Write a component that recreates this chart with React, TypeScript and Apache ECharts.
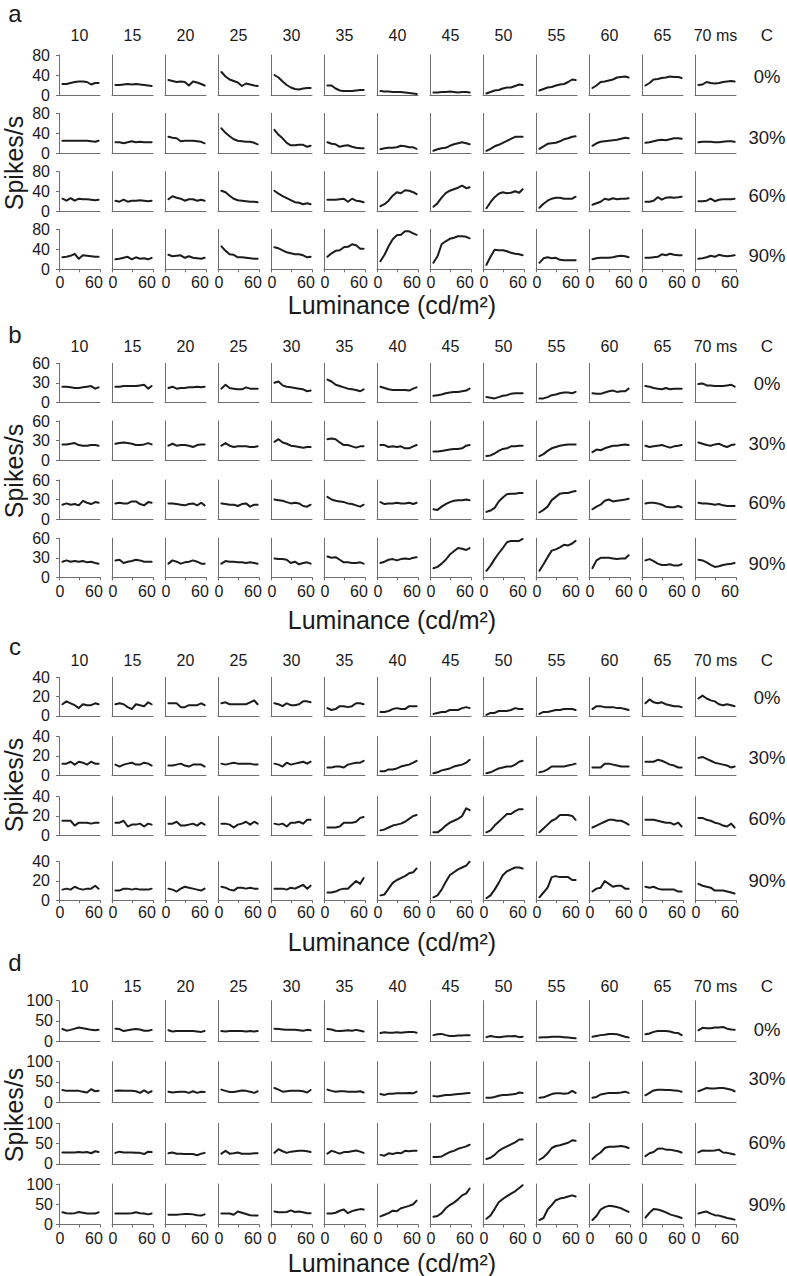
import React, { useEffect, useRef } from "react";
import * as echarts from "echarts";

// ---------- data ----------
const luminance = [5, 11, 17, 23, 29, 35, 41, 47, 53, 58];
const delayLabels = ["10", "15", "20", "25", "30", "35", "40", "45", "50", "55", "60", "65", "70 ms"];
const contrastLabels = ["0%", "30%", "60%", "90%"];
const panelLetters = ["a", "b", "c", "d"];
const yMaxima = [80, 60, 40, 100];

// panel a
const a0 = [
  [22, 22, 24, 26, 27, 27, 26, 21, 24, 24], [20, 20, 21, 22, 21, 22, 21, 20, 19, 18],
  [30, 28, 26, 27, 26, 19, 27, 25, 22, 19], [46, 37, 31, 28, 25, 18, 23, 21, 19, 18],
  [40, 35, 27, 20, 15, 12, 11, 13, 14, 14], [19, 19, 13, 9, 8, 8, 8, 9, 10, 10],
  [8, 7, 7, 6, 6, 6, 5, 4, 3, 2], [5, 5, 6, 6, 7, 6, 5, 6, 6, 5],
  [3, 6, 9, 10, 13, 15, 15, 18, 21, 20], [9, 12, 15, 16, 19, 21, 22, 26, 31, 30],
  [14, 19, 26, 27, 29, 31, 35, 36, 37, 35], [19, 24, 31, 32, 34, 35, 37, 36, 36, 34],
  [20, 21, 26, 24, 23, 24, 26, 27, 28, 27],
];
const a30 = [
  [25, 25, 25, 25, 25, 25, 25, 24, 23, 25], [22, 22, 20, 22, 24, 22, 23, 22, 22, 22],
  [33, 31, 30, 24, 25, 25, 25, 24, 23, 20], [50, 41, 34, 28, 25, 24, 23, 23, 21, 18],
  [47, 37, 30, 21, 16, 16, 17, 17, 13, 15], [22, 19, 18, 13, 15, 16, 13, 11, 10, 10],
  [8, 10, 11, 11, 12, 15, 14, 12, 12, 9], [5, 8, 10, 11, 15, 18, 20, 22, 20, 18],
  [5, 9, 14, 17, 21, 25, 29, 33, 33, 33], [9, 14, 19, 20, 21, 24, 28, 30, 33, 34],
  [15, 20, 23, 24, 25, 26, 27, 29, 31, 30], [21, 22, 24, 26, 27, 26, 28, 30, 30, 29],
  [22, 23, 23, 23, 22, 22, 23, 24, 24, 23],
];
const a60 = [
  [26, 22, 27, 22, 26, 25, 25, 24, 23, 24], [22, 20, 24, 20, 22, 22, 23, 22, 21, 22],
  [25, 31, 28, 26, 22, 25, 25, 22, 24, 22], [42, 39, 32, 26, 23, 22, 21, 20, 20, 19],
  [42, 36, 31, 27, 23, 19, 18, 15, 17, 15], [24, 24, 24, 25, 26, 20, 26, 22, 21, 19],
  [11, 15, 22, 32, 39, 37, 43, 42, 39, 35], [10, 17, 28, 37, 42, 45, 48, 52, 47, 49],
  [7, 19, 29, 36, 39, 37, 38, 41, 38, 45], [8, 16, 22, 26, 28, 28, 26, 26, 26, 30],
  [14, 17, 20, 26, 24, 27, 25, 26, 26, 27], [20, 20, 22, 29, 24, 28, 29, 28, 29, 30],
  [21, 21, 22, 26, 21, 24, 25, 25, 25, 26],
];
const a90 = [
  [24, 25, 27, 31, 21, 28, 27, 26, 25, 25], [20, 21, 23, 25, 20, 24, 21, 22, 20, 23],
  [29, 26, 27, 28, 23, 26, 23, 22, 21, 23], [46, 37, 30, 29, 24, 24, 23, 22, 21, 21],
  [44, 42, 38, 34, 32, 30, 30, 28, 24, 25], [25, 32, 37, 38, 44, 45, 50, 48, 41, 41],
  [16, 29, 46, 60, 68, 69, 76, 76, 72, 69], [13, 26, 50, 56, 61, 63, 66, 66, 65, 62],
  [9, 25, 39, 38, 38, 36, 33, 31, 30, 28], [13, 22, 24, 22, 23, 19, 18, 18, 18, 18],
  [20, 22, 23, 23, 23, 24, 26, 27, 26, 24], [23, 23, 24, 25, 30, 28, 31, 29, 28, 28],
  [21, 22, 24, 27, 25, 29, 27, 26, 27, 28],
];

// panel b
const b0 = [
  [24, 24, 23, 22, 22, 23, 24, 25, 21, 23], [24, 24, 25, 25, 25, 25, 26, 27, 21, 25],
  [22, 24, 21, 22, 22, 23, 23, 24, 23, 24], [21, 27, 22, 21, 20, 20, 23, 21, 21, 21],
  [30, 32, 26, 24, 23, 22, 21, 20, 17, 18], [35, 32, 27, 25, 23, 21, 20, 19, 17, 20],
  [24, 22, 20, 19, 19, 19, 19, 18, 21, 23], [10, 11, 12, 14, 15, 16, 16, 17, 18, 21],
  [8, 7, 6, 8, 10, 11, 13, 14, 14, 14], [6, 6, 8, 11, 12, 14, 15, 15, 14, 16],
  [14, 13, 13, 15, 17, 18, 16, 17, 17, 21], [25, 24, 22, 21, 20, 22, 20, 21, 21, 21],
  [28, 29, 26, 26, 25, 25, 25, 26, 27, 24],
];
const b30 = [
  [24, 24, 25, 26, 23, 22, 22, 23, 23, 22], [25, 26, 27, 26, 25, 23, 23, 24, 26, 24],
  [22, 25, 22, 23, 23, 22, 20, 23, 24, 24], [22, 26, 22, 20, 21, 21, 21, 20, 20, 21],
  [28, 32, 27, 25, 22, 21, 20, 19, 20, 20], [32, 33, 32, 27, 23, 23, 21, 19, 21, 21],
  [23, 23, 20, 21, 20, 21, 18, 18, 21, 23], [13, 13, 14, 15, 16, 17, 17, 18, 22, 23],
  [6, 7, 10, 14, 17, 18, 21, 21, 22, 22], [6, 9, 14, 18, 20, 22, 23, 24, 24, 24],
  [12, 16, 15, 18, 20, 22, 22, 23, 24, 23], [22, 20, 21, 22, 23, 21, 19, 21, 22, 23],
  [27, 25, 23, 22, 24, 25, 22, 20, 23, 24],
];
const b60 = [
  [22, 24, 22, 23, 21, 28, 25, 23, 26, 25], [24, 25, 24, 24, 27, 27, 23, 21, 26, 25],
  [24, 24, 23, 22, 21, 23, 24, 21, 25, 21], [24, 23, 22, 22, 20, 23, 24, 19, 22, 22],
  [30, 29, 28, 26, 24, 25, 24, 20, 19, 22], [34, 30, 28, 27, 26, 24, 23, 21, 19, 22],
  [26, 23, 24, 24, 25, 24, 24, 25, 23, 25], [15, 14, 19, 23, 26, 28, 29, 29, 30, 29],
  [11, 13, 17, 27, 33, 38, 39, 39, 40, 40], [10, 14, 19, 29, 34, 39, 40, 40, 42, 43],
  [15, 19, 22, 28, 30, 27, 28, 29, 30, 31], [24, 25, 25, 24, 22, 19, 18, 18, 20, 18],
  [25, 24, 24, 23, 22, 23, 21, 20, 20, 20],
];
const b90 = [
  [24, 26, 24, 25, 24, 25, 23, 24, 22, 21], [26, 27, 22, 24, 25, 27, 26, 24, 24, 24],
  [21, 26, 24, 21, 23, 24, 26, 24, 21, 21], [21, 25, 24, 24, 23, 23, 22, 23, 22, 21],
  [29, 28, 28, 27, 22, 24, 20, 22, 23, 21], [32, 30, 31, 27, 23, 23, 22, 22, 23, 21],
  [22, 24, 27, 28, 26, 28, 29, 28, 30, 31], [14, 16, 21, 27, 35, 40, 45, 44, 42, 45],
  [10, 18, 28, 37, 45, 54, 56, 56, 56, 59], [10, 20, 31, 41, 43, 46, 50, 49, 52, 56],
  [14, 26, 30, 30, 30, 29, 28, 29, 29, 34], [26, 28, 25, 21, 19, 19, 20, 18, 18, 20],
  [27, 26, 23, 19, 16, 17, 19, 20, 21, 22],
];

// panel c
const c0 = [
  [12, 15, 13, 11, 8, 12, 11, 11, 13, 12], [12, 13, 12, 9, 7, 12, 11, 10, 14, 12],
  [13, 13, 13, 9, 9, 11, 11, 11, 13, 11], [13, 14, 12, 12, 12, 12, 12, 14, 16, 12],
  [13, 12, 10, 13, 11, 11, 12, 15, 15, 14], [8, 6, 7, 10, 10, 9, 10, 13, 13, 12],
  [4, 4, 5, 7, 8, 7, 7, 10, 10, 10], [2, 3, 4, 4, 6, 6, 6, 8, 9, 8],
  [1, 3, 3, 5, 5, 5, 6, 8, 7, 7], [2, 4, 4, 5, 6, 6, 7, 7, 7, 6],
  [7, 10, 10, 9, 9, 9, 8, 8, 7, 6], [13, 17, 14, 13, 14, 12, 11, 10, 10, 9],
  [18, 21, 18, 16, 15, 12, 11, 12, 11, 10],
];
const c30 = [
  [12, 12, 14, 11, 14, 13, 11, 14, 12, 12], [11, 9, 11, 12, 13, 11, 11, 13, 12, 10],
  [10, 10, 11, 12, 10, 9, 11, 11, 11, 9], [12, 11, 12, 13, 12, 12, 12, 12, 11, 11],
  [12, 11, 9, 13, 11, 12, 13, 14, 12, 14], [8, 8, 9, 9, 8, 11, 12, 13, 13, 15],
  [4, 4, 6, 6, 7, 9, 10, 11, 13, 15], [2, 3, 5, 6, 7, 9, 10, 11, 13, 16],
  [2, 3, 5, 7, 8, 9, 9, 11, 14, 15], [3, 4, 6, 9, 9, 9, 9, 10, 11, 12],
  [8, 8, 8, 12, 12, 11, 10, 9, 9, 9], [14, 14, 14, 16, 15, 13, 11, 10, 8, 8],
  [18, 19, 17, 15, 13, 12, 11, 10, 8, 9],
];
const c60 = [
  [15, 15, 15, 10, 13, 13, 13, 12, 13, 13], [13, 13, 15, 9, 11, 11, 12, 9, 12, 11],
  [12, 12, 14, 10, 10, 11, 12, 10, 13, 11], [12, 12, 11, 8, 11, 12, 14, 11, 14, 12],
  [12, 11, 12, 9, 13, 13, 14, 12, 16, 16], [8, 8, 8, 9, 13, 13, 13, 14, 18, 19],
  [5, 6, 8, 10, 11, 12, 14, 17, 20, 21], [3, 3, 6, 10, 13, 15, 17, 20, 28, 26],
  [3, 5, 10, 14, 18, 22, 22, 25, 27, 27], [3, 7, 11, 15, 17, 21, 21, 21, 20, 16],
  [8, 10, 12, 14, 16, 16, 15, 15, 13, 11], [16, 16, 16, 15, 14, 13, 13, 11, 13, 9],
  [18, 18, 16, 15, 13, 12, 10, 9, 12, 8],
];
const c90 = [
  [11, 12, 11, 14, 12, 11, 12, 12, 15, 12], [10, 10, 12, 12, 11, 12, 11, 11, 11, 12],
  [12, 11, 9, 12, 14, 13, 12, 11, 10, 12], [14, 13, 11, 10, 13, 13, 12, 13, 12, 12],
  [12, 12, 12, 11, 13, 12, 14, 16, 12, 15], [8, 8, 9, 11, 12, 12, 16, 20, 17, 23],
  [5, 6, 12, 18, 21, 23, 25, 28, 29, 33], [3, 5, 11, 19, 26, 29, 32, 34, 36, 40],
  [2, 5, 11, 18, 26, 30, 32, 34, 34, 33], [3, 8, 13, 24, 25, 24, 24, 24, 21, 21],
  [9, 12, 13, 20, 17, 14, 15, 15, 12, 12], [14, 13, 14, 12, 11, 11, 11, 11, 9, 9],
  [17, 15, 14, 13, 10, 10, 10, 9, 8, 7],
];

// panel d
const d0 = [
  [30, 26, 28, 31, 34, 32, 30, 28, 27, 28], [31, 30, 25, 27, 29, 30, 29, 26, 26, 28],
  [27, 24, 25, 25, 25, 25, 25, 24, 23, 25], [25, 24, 25, 25, 25, 25, 24, 25, 24, 25],
  [31, 30, 29, 28, 28, 28, 27, 26, 28, 27], [30, 29, 26, 25, 26, 27, 26, 28, 26, 24],
  [20, 22, 21, 21, 22, 21, 22, 23, 23, 21], [15, 17, 18, 15, 13, 13, 14, 14, 15, 15],
  [10, 13, 11, 10, 11, 12, 12, 13, 10, 11], [9, 10, 10, 11, 11, 11, 10, 9, 8, 7],
  [11, 13, 15, 16, 18, 18, 17, 14, 11, 9], [17, 19, 23, 25, 25, 25, 24, 21, 20, 15],
  [27, 33, 32, 32, 34, 34, 35, 31, 29, 28],
];
const d30 = [
  [30, 28, 28, 28, 28, 26, 24, 32, 27, 28], [28, 29, 28, 28, 28, 27, 23, 29, 23, 27],
  [26, 24, 25, 26, 26, 23, 27, 23, 26, 25], [31, 28, 25, 25, 27, 29, 28, 26, 23, 27],
  [35, 31, 26, 27, 28, 28, 28, 27, 24, 30], [31, 28, 26, 27, 27, 26, 26, 26, 27, 24],
  [20, 18, 21, 21, 22, 22, 22, 23, 22, 26], [15, 14, 16, 18, 18, 19, 20, 21, 22, 23],
  [11, 11, 13, 16, 18, 18, 19, 20, 24, 23], [11, 12, 16, 20, 22, 22, 21, 22, 28, 23],
  [11, 13, 19, 21, 23, 23, 23, 24, 26, 23], [17, 23, 29, 31, 31, 30, 30, 29, 28, 26],
  [27, 31, 35, 34, 34, 35, 35, 33, 31, 27],
];
const d60 = [
  [28, 28, 28, 28, 29, 28, 29, 26, 31, 29], [27, 30, 28, 28, 28, 27, 27, 24, 30, 29],
  [26, 28, 25, 25, 24, 24, 24, 21, 25, 27], [25, 32, 25, 26, 28, 25, 25, 25, 26, 26],
  [27, 36, 31, 27, 30, 31, 32, 32, 31, 29], [25, 32, 29, 25, 29, 29, 31, 33, 30, 27],
  [22, 20, 26, 24, 27, 26, 32, 31, 32, 32], [17, 17, 18, 24, 29, 32, 37, 40, 43, 47],
  [12, 15, 22, 32, 38, 43, 48, 53, 60, 60], [10, 16, 26, 39, 44, 46, 49, 52, 58, 57],
  [12, 21, 28, 39, 42, 42, 43, 44, 42, 39], [19, 26, 29, 37, 38, 35, 35, 33, 31, 28],
  [28, 33, 32, 32, 33, 35, 28, 27, 25, 23],
];
const d90 = [
  [30, 28, 27, 28, 31, 29, 27, 27, 27, 30], [27, 27, 27, 27, 28, 30, 28, 27, 25, 27],
  [24, 24, 24, 25, 26, 26, 25, 23, 22, 25], [27, 27, 27, 24, 32, 29, 26, 23, 22, 22],
  [32, 30, 30, 31, 35, 31, 32, 30, 28, 28], [27, 27, 29, 34, 37, 28, 33, 36, 38, 37],
  [20, 24, 28, 34, 33, 40, 43, 46, 50, 59], [19, 21, 28, 40, 48, 54, 62, 72, 77, 89],
  [14, 22, 38, 55, 63, 70, 76, 82, 90, 97], [11, 16, 37, 48, 60, 64, 66, 69, 72, 69],
  [11, 21, 37, 43, 46, 45, 43, 40, 35, 31], [17, 29, 38, 37, 34, 30, 25, 22, 19, 16],
  [27, 30, 32, 27, 23, 22, 19, 16, 14, 12],
];

const panels = [
  [a0, a30, a60, a90],
  [b0, b30, b60, b90],
  [c0, c30, c60, c90],
  [d0, d30, d60, d90],
];

// ---------- layout ----------
const FONT = "'Liberation Sans', Arial, Helvetica, sans-serif";
const TXT = "#1a1a1a";
const AXIS = "#6e6e6e";
const LINE = "#1c1c1c";
const COL0 = 59;
const COLSTEP = 53;
const PLOT_W = 41;
const ROW_TOPS = [
  [55, 113.3, 171.7, 229.3],
  [363.3, 421, 480, 538.3],
  [677.3, 736.7, 796.7, 861.7],
  [1000.7, 1061.7, 1123.3, 1184],
];
const ROW_H = [40, 39, 38.5, 40.5];
const HEADER_Y = [35, 346.7, 660, 986.7];
const LETTER_Y = [13, 334, 646, 962];
const ROWLABEL_Y = [
  [76, 137, 195, 255],
  [383, 443, 502, 563],
  [697, 757, 818, 880],
  [1029, 1078, 1142, 1204],
];
const SPIKES_Y = [163, 471, 785, 1115];
const LUM_Y = [305, 620, 942, 1263];
const XLABEL_MARGIN = [5, 6, 4, 6];
const YLABEL_MARGIN = [9, 9, 9, 6];

function txt(text: string, x: number, y: number, size: number, extra: any = {}) {
  return {
    type: "text",
    x,
    y,
    silent: true,
    ...extra,
    style: {
      text,
      fontSize: size,
      fontFamily: FONT,
      fill: TXT,
      align: "center",
      verticalAlign: "middle",
      textAlign: "center",
      textVerticalAlign: "middle",
    },
  };
}

function buildOption() {
  const grid: any[] = [];
  const xAxis: any[] = [];
  const yAxis: any[] = [];
  const series: any[] = [];
  const graphic: any[] = [];

  panels.forEach((rows, p) => {
    const ymax = yMaxima[p];
    rows.forEach((row, r) => {
      row.forEach((vals, c) => {
        const idx = grid.length;
        const bottom = r === rows.length - 1;
        const first = c === 0;
        grid.push({
          left: COL0 + c * COLSTEP,
          top: ROW_TOPS[p][r],
          width: PLOT_W,
          height: ROW_H[p],
          containLabel: false,
        });
        xAxis.push({
          gridIndex: idx,
          type: "value",
          min: 0,
          max: 60,
          interval: 30,
          axisLine: { show: true, onZero: false, lineStyle: { color: AXIS, width: 1 } },
          axisTick: { show: bottom, length: 3, lineStyle: { color: AXIS, width: 1 } },
          axisLabel: {
            show: bottom,
            margin: XLABEL_MARGIN[p],
            fontSize: 16,
            fontFamily: FONT,
            color: TXT,
            formatter: (v: number) => (v === 30 ? "" : v === 60 ? "{r|60}" : "{l|" + v + "}"),
            rich: {
              r: { fontSize: 16, fontFamily: FONT, color: TXT, padding: [0, 12, 0, 0] },
              l: { fontSize: 16, fontFamily: FONT, color: TXT, padding: [0, 0, 0, 2] },
            },
          },
          splitLine: { show: false },
        });
        yAxis.push({
          gridIndex: idx,
          type: "value",
          min: 0,
          max: ymax,
          interval: ymax / 2,
          axisLine: { show: true, onZero: false, lineStyle: { color: AXIS, width: 1 } },
          axisTick: { show: first, length: 3, lineStyle: { color: AXIS, width: 1 } },
          axisLabel: {
            show: first,
            margin: YLABEL_MARGIN[p],
            fontSize: 16,
            fontFamily: FONT,
            color: TXT,
          },
          splitLine: { show: false },
        });
        series.push({
          type: "line",
          xAxisIndex: idx,
          yAxisIndex: idx,
          data: luminance.map((x, i) => [x, vals[i]]),
          showSymbol: false,
          symbol: "none",
          silent: true,
          clip: false,
          lineStyle: { color: LINE, width: 2, join: "round", cap: "round" },
        });
      });
      graphic.push(txt(contrastLabels[r], 767, ROWLABEL_Y[p][r], 18.5));
    });

    graphic.push(txt(panelLetters[p], 15, LETTER_Y[p], 24));
    delayLabels.forEach((lab, c) => {
      graphic.push(txt(lab, COL0 + c * COLSTEP + PLOT_W / 2, HEADER_Y[p], 16));
    });
    graphic.push(txt("C", 767, HEADER_Y[p], 17));
    graphic.push(txt("Spikes/s", 14, SPIKES_Y[p], 25, { rotation: Math.PI / 2 }));
    graphic.push(txt("Luminance (cd/m\u00B2)", 392, LUM_Y[p], 25));
  });

  return {
    animation: false,
    backgroundColor: "#ffffff",
    grid,
    xAxis,
    yAxis,
    series,
    graphic: { elements: graphic },
  };
}

export default function App() {
  const ref = useRef<HTMLDivElement>(null);
  useEffect(() => {
    document.body.style.margin = "0";
    if (!ref.current) return;
    const chart = echarts.init(ref.current, undefined, { renderer: "svg" });
    chart.setOption(buildOption() as any);
    return () => chart.dispose();
  }, []);
  return (
    <div
      ref={ref}
      style={{ position: "absolute", left: 0, top: 0, width: 787, height: 1276, background: "#fff" }}
    />
  );
}
